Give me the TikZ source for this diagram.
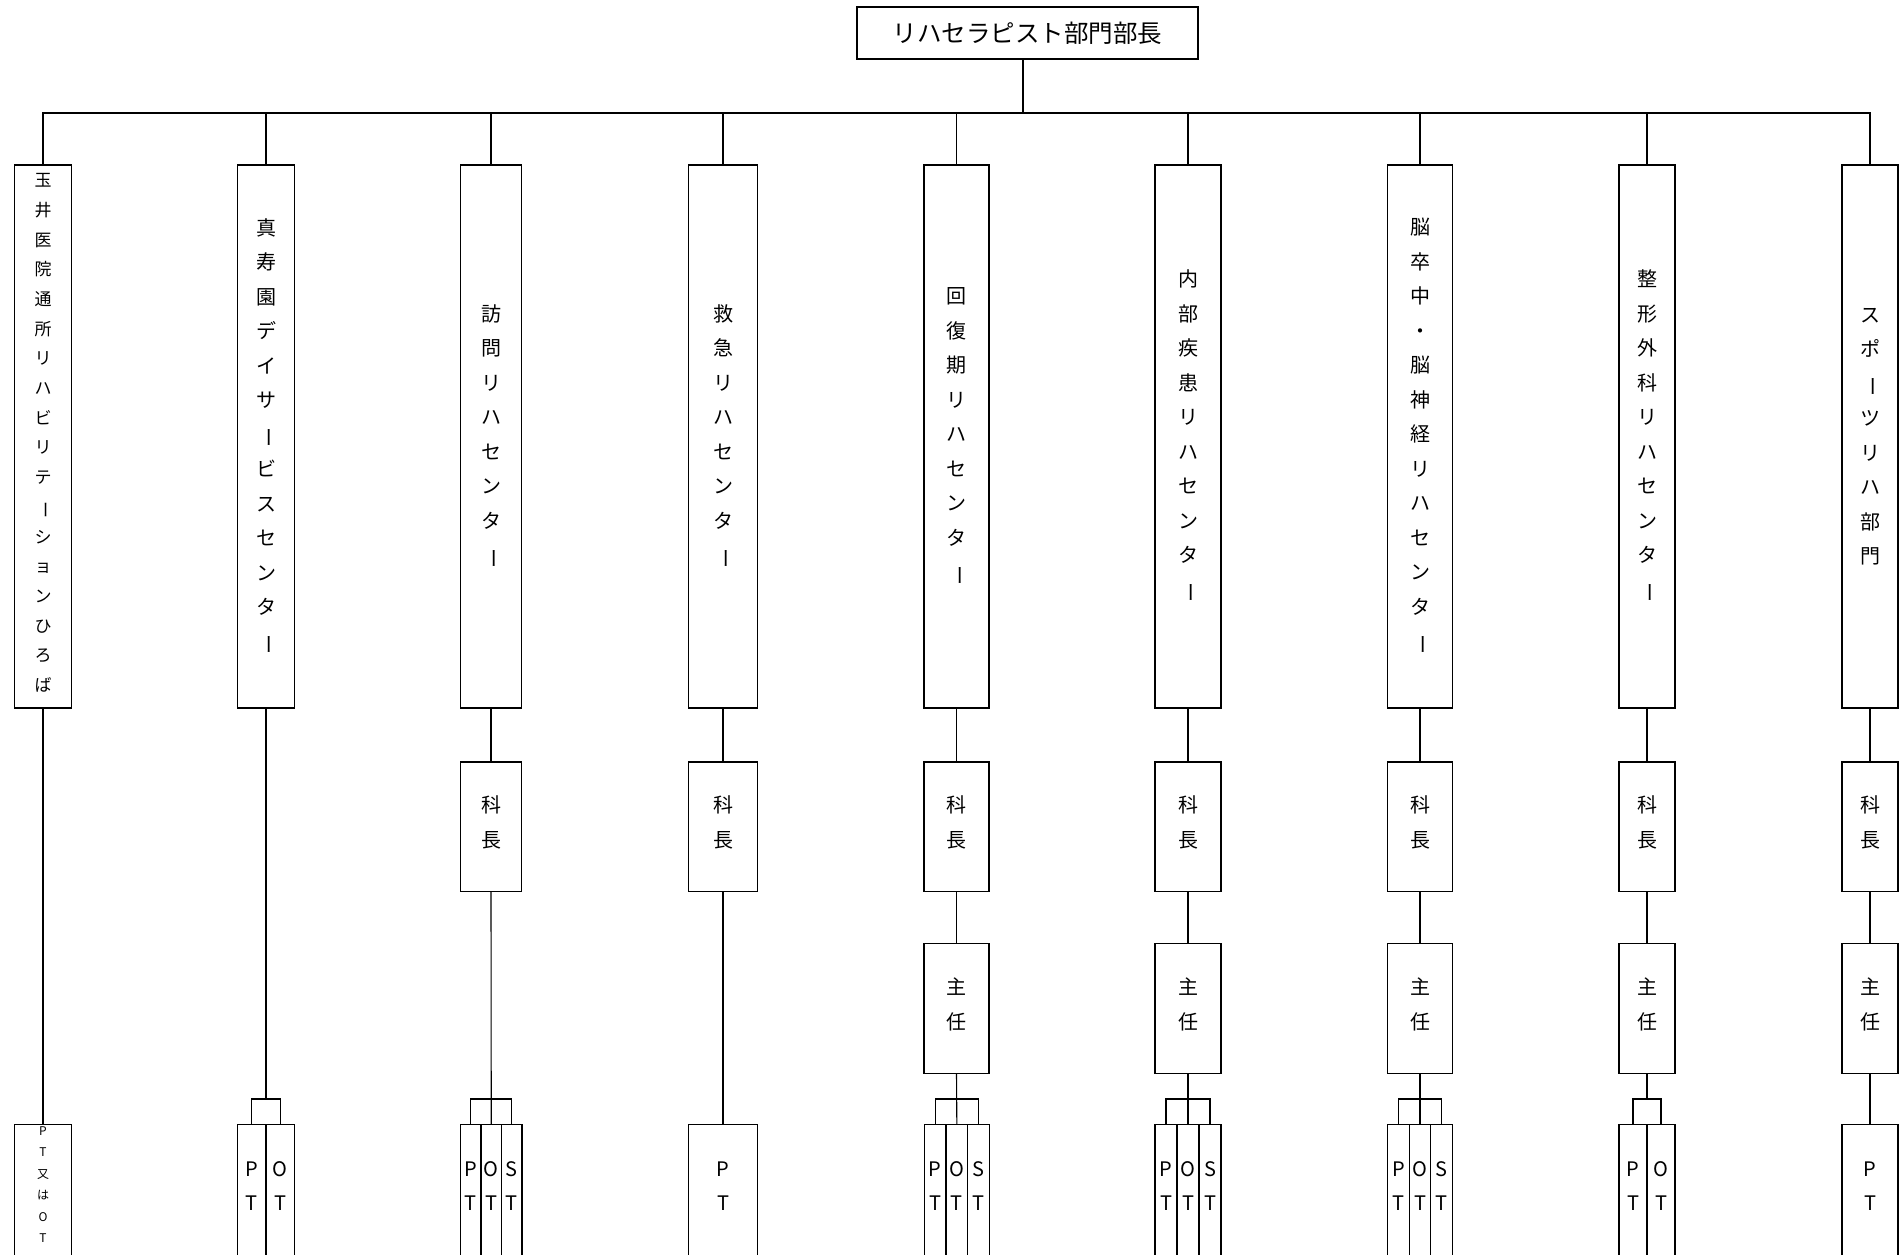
\documentclass[tikz,border=0pt]{standalone}
\usepackage{fontspec}
\setmainfont{Noto Sans CJK JP}
\usepackage{graphicx}
\newcommand\vcho{\rotatebox[origin=c]{-90}{ー}}
\tikzset{
  box/.style={draw, line width=1.1pt, rectangle, inner sep=0pt, align=center},
  conn/.style={line width=1.1pt},
  vtext/.style={font=\fontsize{20}{34.5}\selectfont},
  ktext/.style={font=\fontsize{20}{35}\selectfont, text depth=10pt},
  pttext/.style={font=\fontsize{20}{34}\selectfont, align=center, inner sep=0pt},
  smalltext/.style={font=\fontsize{12}{21.5}\selectfont, align=center, inner sep=0pt},
  colbox/.style={box, minimum height=543pt},
  kbox/.style={box, ktext, minimum height=129.5pt},
  sbox/.style={box, ktext, minimum height=130pt},
  bbox/.style={box, anchor=north, minimum height=200pt},
}
\begin{document}
\begin{tikzpicture}[x=1pt, y=-1pt]
\clip (0,0) rectangle (1902,1254);
\fill[white] (0,0) rectangle (1902,1254);

% title
\node[box, minimum width=341pt, minimum height=52pt, font=\fontsize{24.5}{28}\selectfont] (top) at (1027.5,33) {リハセラピスト部門部長};
\coordinate (busc) at (1023,113);
\coordinate (brk) at (0,1099);

% department boxes
\node[colbox, minimum width=57pt, font=\fontsize{17}{29.7}\selectfont, text depth=8pt] (d1) at (43,436.5)
  {玉\\井\\医\\院\\通\\所\\リ\\ハ\\ビ\\リ\\テ\\\vcho\\シ\\ョ\\ン\\ひ\\ろ\\ば};
\node[colbox, vtext, minimum width=57pt] (d2) at (266,436.5)
  {真\\寿\\園\\デ\\イ\\サ\\\vcho\\ビ\\ス\\セ\\ン\\タ\\\vcho};
\node[colbox, vtext, minimum width=61pt] (d3) at (491,436.5)
  {訪\\問\\リ\\ハ\\セ\\ン\\タ\\\vcho};
\node[colbox, vtext, minimum width=69pt] (d4) at (723,436.5)
  {救\\急\\リ\\ハ\\セ\\ン\\タ\\\vcho};
\node[colbox, vtext, minimum width=65pt] (d5) at (956.5,436.5)
  {回\\復\\期\\リ\\ハ\\セ\\ン\\タ\\\vcho};
\node[colbox, vtext, minimum width=66pt] (d6) at (1188,436.5)
  {内\\部\\疾\\患\\リ\\ハ\\セ\\ン\\タ\\\vcho};
\node[colbox, vtext, minimum width=65pt] (d7) at (1420,436.5)
  {脳\\卒\\中\\・\\脳\\神\\経\\リ\\ハ\\セ\\ン\\タ\\\vcho};
\node[colbox, vtext, minimum width=56pt] (d8) at (1647,436.5)
  {整\\形\\外\\科\\リ\\ハ\\セ\\ン\\タ\\\vcho};
\node[colbox, vtext, minimum width=56pt] (d9) at (1870,436.5)
  {ス\\ポ\\\vcho\\ツ\\リ\\ハ\\部\\門};

% section chiefs
\node[kbox, minimum width=61pt] (k3) at (491,826.75) {科\\長};
\node[kbox, minimum width=69pt] (k4) at (723,826.75) {科\\長};
\node[kbox, minimum width=65pt] (k5) at (956.5,826.75) {科\\長};
\node[kbox, minimum width=66pt] (k6) at (1188,826.75) {科\\長};
\node[kbox, minimum width=65pt] (k7) at (1420,826.75) {科\\長};
\node[kbox, minimum width=56pt] (k8) at (1647,826.75) {科\\長};
\node[kbox, minimum width=56pt] (k9) at (1870,826.75) {科\\長};

% chiefs
\node[sbox, minimum width=65pt] (s5) at (956.5,1008.5) {主\\任};
\node[sbox, minimum width=66pt] (s6) at (1188,1008.5) {主\\任};
\node[sbox, minimum width=65pt] (s7) at (1420,1008.5) {主\\任};
\node[sbox, minimum width=56pt] (s8) at (1647,1008.5) {主\\任};
\node[sbox, minimum width=56pt] (s9) at (1870,1008.5) {主\\任};

% bottom staff boxes
\node[bbox, minimum width=57pt] (b1) at (43,1124) {};
\node[smalltext, anchor=north] at ([yshift=-2pt]b1.north) {P\\T\\又\\は\\O\\T};

\node[bbox, minimum width=28.5pt] (b2a) at (251.75,1124) {};
\node[bbox, minimum width=28.5pt] (b2b) at (280.25,1124) {};

\node[bbox, minimum width=20.5pt] (b3a) at (470.75,1124) {};
\node[bbox, minimum width=20.5pt] (b3b) at (491.25,1124) {};
\node[bbox, minimum width=20.5pt] (b3c) at (511.75,1124) {};

\node[bbox, minimum width=69pt] (b4) at (723,1124) {};

\node[bbox, minimum width=21.67pt] (b5a) at (935.17,1124) {};
\node[bbox, minimum width=21.67pt] (b5b) at (956.83,1124) {};
\node[bbox, minimum width=21.67pt] (b5c) at (978.5,1124) {};

\node[bbox, minimum width=22pt] (b6a) at (1166,1124) {};
\node[bbox, minimum width=22pt] (b6b) at (1188,1124) {};
\node[bbox, minimum width=22pt] (b6c) at (1210,1124) {};

\node[bbox, minimum width=21.67pt] (b7a) at (1398.33,1124) {};
\node[bbox, minimum width=21.67pt] (b7b) at (1420,1124) {};
\node[bbox, minimum width=21.67pt] (b7c) at (1441.67,1124) {};

\node[bbox, minimum width=28pt] (b8a) at (1633,1124) {};
\node[bbox, minimum width=28pt] (b8b) at (1661,1124) {};

\node[bbox, minimum width=56pt] (b9) at (1870,1124) {};

\foreach \n/\t in {b2a/P, b2b/O, b3a/P, b3b/O, b3c/S, b4/P, b5a/P, b5b/O, b5c/S,
                   b6a/P, b6b/O, b6c/S, b7a/P, b7b/O, b7c/S, b8a/P, b8b/O, b9/P}
  \node[pttext] at ([yshift=-62pt]\n.north) {\t\\T};

% connectors: top level
\draw[conn] (busc |- top.south) -- (busc);
\draw[conn] (d1.north) -- (d1.north |- busc) -- (d9.north |- busc) -- (d9.north);
\foreach \i in {2,...,8}
  \draw[conn] (d\i.north) -- (d\i.north |- busc);

% column 1, 2
\draw[conn] (d1.south) -- (b1.north);
\draw[conn] (d2.south) -- (d2.south |- brk);
\draw[conn] (b2a.north) -- (b2a.north |- brk) -- (b2b.north |- brk) -- (b2b.north);

% column 3
\draw[conn] (d3.south) -- (k3.north);
\draw[conn] (k3.south) -- (b3b.north);
\draw[conn] (b3a.north) -- (b3a.north |- brk) -- (b3c.north |- brk) -- (b3c.north);

% column 4
\draw[conn] (d4.south) -- (k4.north);
\draw[conn] (k4.south) -- (b4.north);

% columns 5-7
\foreach \i in {5,6,7} {
  \draw[conn] (d\i.south) -- (k\i.north);
  \draw[conn] (k\i.south) -- (s\i.north);
  \draw[conn] (s\i.south) -- (b\i b.north);
  \draw[conn] (b\i a.north) -- (b\i a.north |- brk) -- (b\i c.north |- brk) -- (b\i c.north);
}

% column 8
\draw[conn] (d8.south) -- (k8.north);
\draw[conn] (k8.south) -- (s8.north);
\draw[conn] (s8.south) -- (s8.south |- brk);
\draw[conn] (b8a.north) -- (b8a.north |- brk) -- (b8b.north |- brk) -- (b8b.north);

% column 9
\draw[conn] (d9.south) -- (k9.north);
\draw[conn] (k9.south) -- (s9.north);
\draw[conn] (s9.south) -- (b9.north);
\end{tikzpicture}
\end{document}
